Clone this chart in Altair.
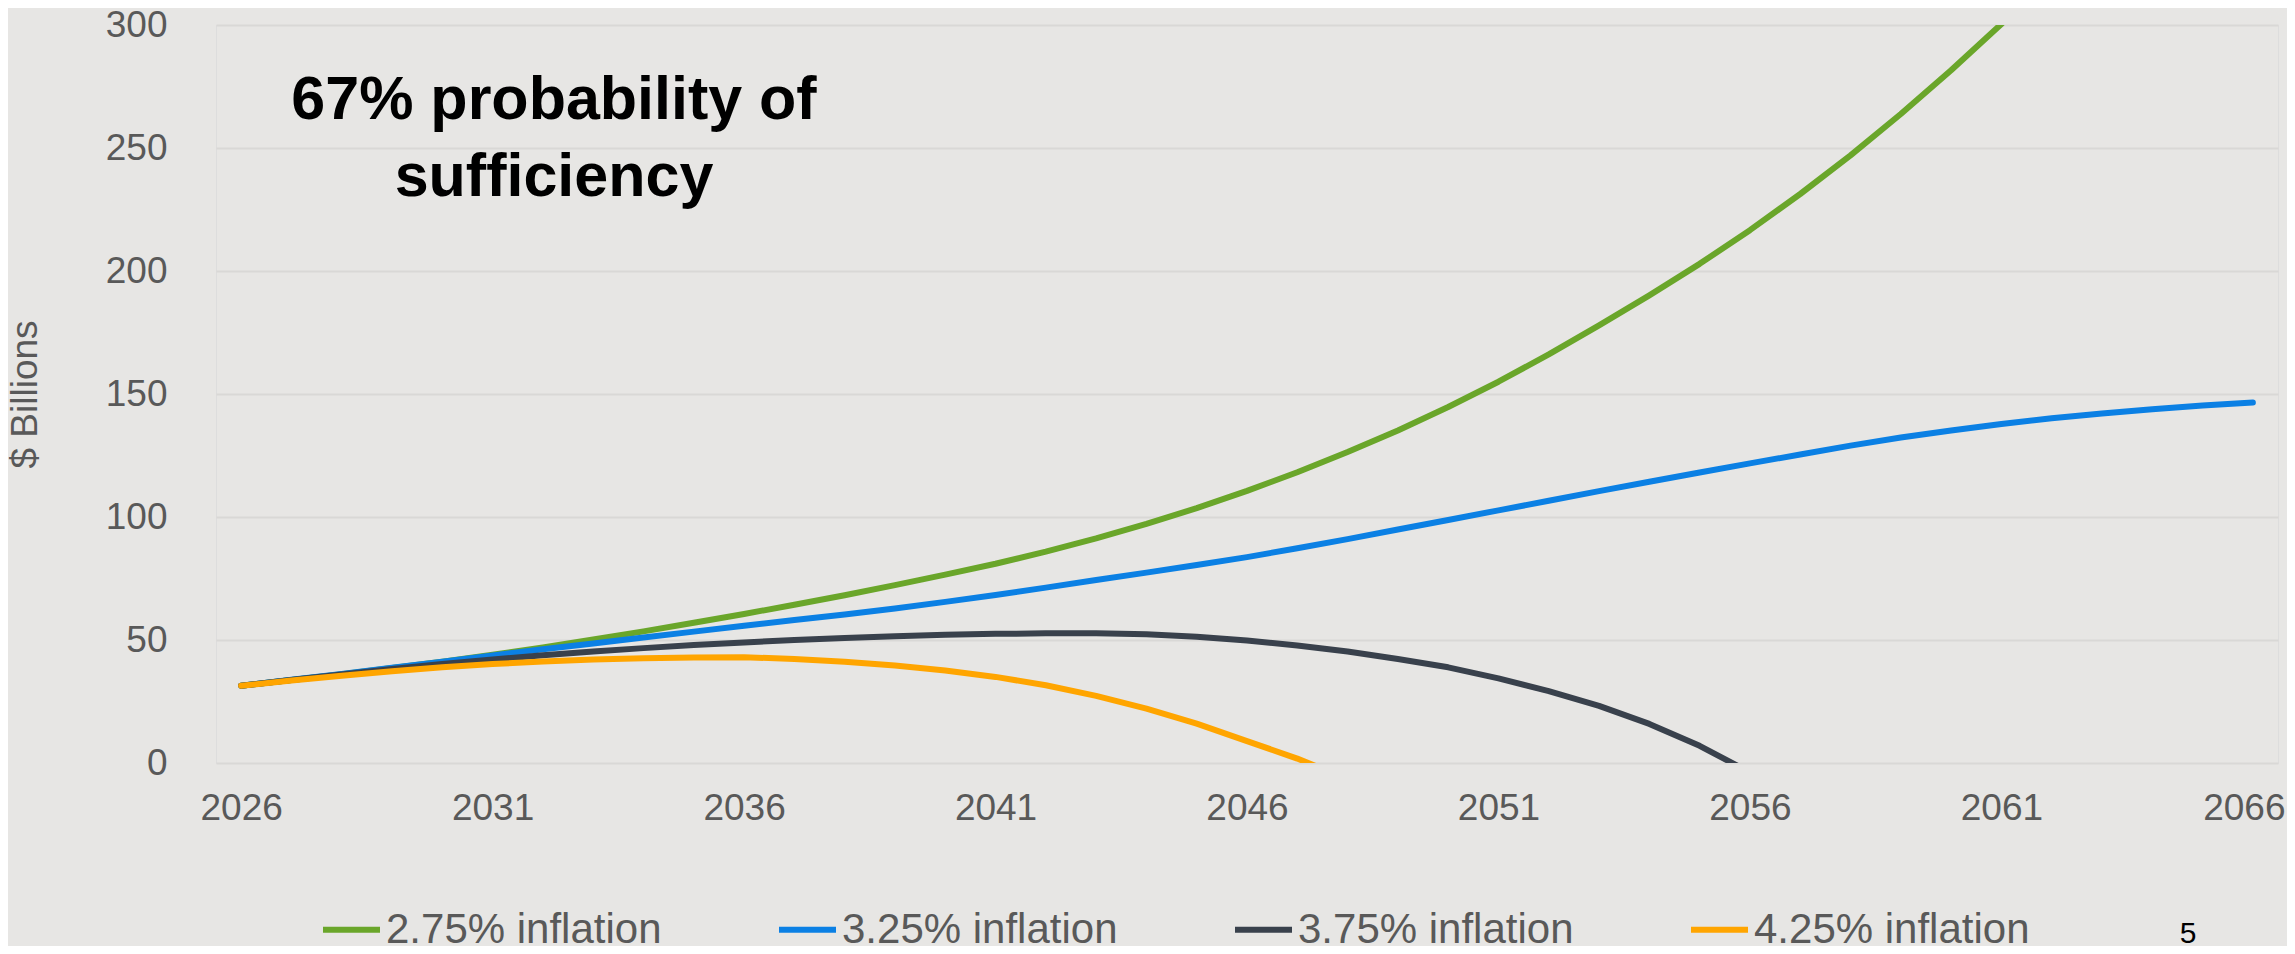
import altair as alt
import pandas as pd

years = list(range(2026, 2067))
tick_years = [2026, 2031, 2036, 2041, 2046, 2051, 2056, 2061, 2066]
y_ticks = [0, 50, 100, 150, 200, 250, 300]

series_names = ["2.75% inflation", "3.25% inflation", "3.75% inflation", "4.25% inflation"]
colors = ["#6AA62A", "#0B80E4", "#39414C", "#FFA500"]

# $ Billions, one value per year starting 2026
infl_275 = [31.4, 33.7, 36.1, 38.6, 41.2, 44.0, 47.0, 50.2, 53.5, 57.0, 60.6, 64.3, 68.2,
            72.3, 76.6, 81.0, 85.9, 91.3, 97.2, 103.6, 110.6, 118.2, 126.4, 135.2, 144.7,
            155.0, 166.1, 177.9, 190.1, 202.9, 216.6, 231.3, 247.0, 263.8, 281.6, 300.4, 320.5]
infl_325 = [31.4, 33.8, 36.2, 38.7, 41.2, 43.7, 46.2, 48.6, 51.0, 53.4, 55.8, 58.1, 60.4,
            62.8, 65.5, 68.3, 71.3, 74.4, 77.4, 80.5, 83.7, 87.3, 91.0, 94.9, 98.8, 102.7,
            106.6, 110.5, 114.3, 118.1, 121.8, 125.4, 129.0, 132.3, 135.2, 137.8, 140.1,
            142.1, 143.8, 145.3, 146.5]
infl_375 = [31.4, 33.7, 36.0, 38.2, 40.2, 42.1, 43.8, 45.3, 46.7, 48.0, 49.0, 50.0, 50.8,
            51.5, 52.1, 52.5, 52.7, 52.7, 52.3, 51.3, 49.8, 47.8, 45.3, 42.3, 38.9, 34.4,
            29.2, 23.2, 15.9, 7.0, -3.8]
infl_425 = [31.4, 33.5, 35.5, 37.3, 38.9, 40.2, 41.3, 42.1, 42.6, 42.9, 43.0, 42.3, 41.2,
            39.6, 37.6, 35.0, 31.6, 27.3, 22.1, 16.0, 8.9, 1.8, -6.5]

annotation = ["67% probability of", "sufficiency"]
page_number = "5"

rows = []
for name, vals in zip(series_names, [infl_275, infl_325, infl_375, infl_425]):
    for yr, v in zip(years, vals):
        rows.append({"year": yr, "value": v, "series": name})
df = pd.DataFrame(rows)

FONT = "Liberation Sans"
GREY = "#595959"

lines = alt.Chart(df).mark_line(
    strokeWidth=6, clip=True, strokeCap="round", strokeJoin="round"
).encode(
    x=alt.X(
        "year:Q",
        scale=alt.Scale(domain=[2025.5, 2066.5], nice=False, zero=False),
        axis=alt.Axis(
            values=tick_years, format="d", title=None, grid=False, domain=False,
            ticks=False, tickSize=0, labelFontSize=37, labelColor=GREY, labelFont=FONT,
            labelPadding=27, labelFlush=False, labelOverlap=False,
            labelOffset={"expr": "datum.value == 2066 ? -9 : 0"},
        ),
    ),
    y=alt.Y(
        "value:Q",
        scale=alt.Scale(domain=[0, 300], nice=False),
        axis=alt.Axis(
            values=y_ticks, title="$ Billions", grid=True, gridColor="#D9D8D6",
            gridWidth=2, domain=False, ticks=False, tickSize=0, labelFontSize=37,
            labelColor=GREY, labelFont=FONT, labelPadding=49,
            titleFontSize=37, titleFontWeight="normal", titleColor=GREY, titleFont=FONT,
            titleAngle=270, titleBaseline="alphabetic", titleX=-180, titleY=369,
            titleAlign="center",
        ),
    ),
    color=alt.Color(
        "series:N",
        scale=alt.Scale(domain=series_names, range=colors),
        legend=alt.Legend(
            title=None, orient="none", legendX=104, legendY=873, direction="horizontal",
            labelFontSize=42, labelFont=FONT, labelColor=GREY, labelLimit=1000,
            symbolType="stroke", symbolSize=3249, symbolStrokeWidth=6,
            columnPadding=105, labelOffset=3, padding=0,
        ),
    ),
)

dummy = pd.DataFrame({"k": [0]})

note = alt.Chart(dummy).mark_text(
    font=FONT, fontSize=61, fontWeight="bold", color="#000000",
    align="center", baseline="alphabetic", lineHeight=77,
).encode(
    x=alt.value(338), y=alt.value(94), text=alt.value(annotation)
)

pnum = alt.Chart(dummy).mark_text(
    font=FONT, fontSize=30, color="#000000", align="center", baseline="alphabetic",
).encode(
    x=alt.value(1972), y=alt.value(918), text=alt.value(page_number)
)

chart = alt.layer(lines, note, pnum).properties(
    width=2062,
    height=738,
    padding={"left": 208, "top": 17, "right": 9, "bottom": 183},
    autosize=alt.AutoSizeParams(type="none"),
    background="#E7E6E4",
).configure_view(stroke=None).configure(font=FONT)

chart.save("out.html", embed_options={"renderer": "svg", "actions": False})
